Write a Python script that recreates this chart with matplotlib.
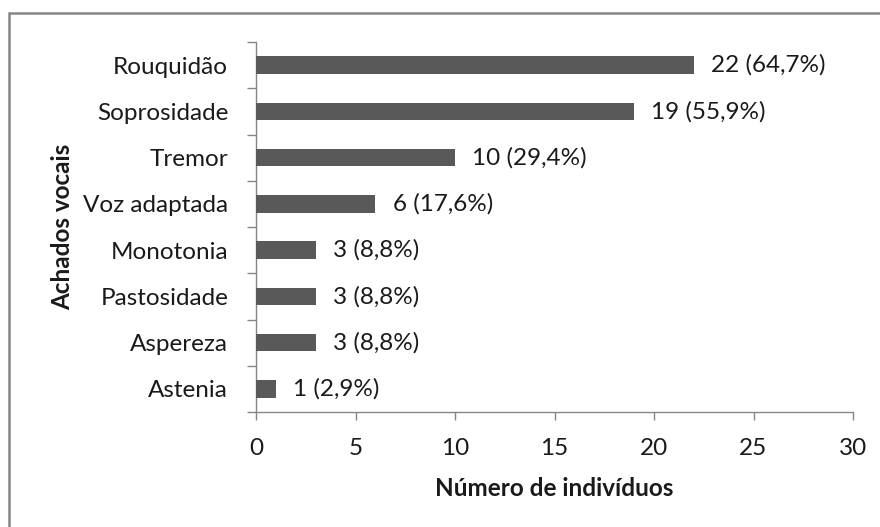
import matplotlib
matplotlib.use("Agg")
import matplotlib.pyplot as plt
from matplotlib.patches import Rectangle

categories = ["Rouquidão", "Soprosidade", "Tremor", "Voz adaptada",
              "Monotonia", "Pastosidade", "Aspereza", "Astenia"]
counts = [22, 19, 10, 6, 3, 3, 3, 1]
percents = ["64,7%", "55,9%", "29,4%", "17,6%", "8,8%", "8,8%", "8,8%", "2,9%"]
xticks = [0, 5, 10, 15, 20, 25, 30]

plt.rcParams['font.family'] = ['Lato', 'DejaVu Sans']
TXT = "#1a1a1a"
GRID = "#868686"
FS = 17.5

fig = plt.figure(figsize=(8.8, 5.27), dpi=100)
W, H = 880, 527
ax = fig.add_axes([256 / W, 1 - 412 / H, (853 - 256) / W, (412 - 42) / H])

y = list(range(len(categories)))
ax.barh(y, counts, height=0.38, color="#595959", zorder=3)
ax.set_ylim(len(categories) - 0.5, -0.5)
ax.set_xlim(0, 30)

for yi, c, p in zip(y, counts, percents):
    ax.annotate(f"{c} ({p})", xy=(c, yi), xytext=(12.5, 0), textcoords="offset points",
                ha="left", va="center", fontsize=FS, color=TXT)

ax.set_yticks(y)
ax.set_yticklabels(categories, fontsize=FS, color=TXT)
ax.tick_params(axis="y", which="major", length=0, pad=20)
ax.set_yticks([i - 0.5 for i in range(len(categories) + 1)], minor=True)
ax.tick_params(axis="y", which="minor", length=6.5, color=GRID, width=1, direction="out")

ax.set_xticks(xticks)
ax.set_xticklabels([str(t) for t in xticks], fontsize=FS, color=TXT)
ax.tick_params(axis="x", which="major", length=6, color=GRID, width=1, pad=13, direction="out")

for s in ["top", "right"]:
    ax.spines[s].set_visible(False)
for s in ["left", "bottom"]:
    ax.spines[s].set_color(GRID)
    ax.spines[s].set_linewidth(1)

ax.set_xlabel("Número de indivíduos", fontsize=FS, fontweight="bold", color=TXT, labelpad=13)
ax.set_ylabel("Achados vocais", fontsize=FS, fontweight="bold", color=TXT)
ax.yaxis.set_label_coords((74 - 256) / 597, 0.5)

border = Rectangle((9 / W, -0.1), 1.2, (1 - 13 / H) + 0.1, transform=fig.transFigure,
                   fill=False, edgecolor=GRID, linewidth=1.8)
fig.patches.append(border)

fig.savefig("out.png", dpi=100)
